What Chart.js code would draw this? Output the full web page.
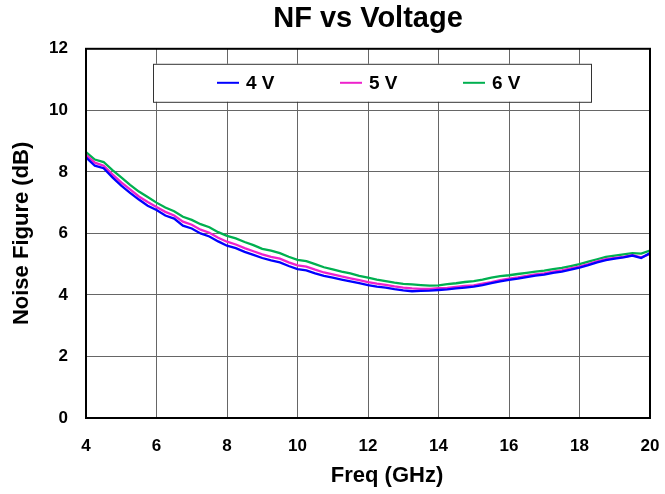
<!DOCTYPE html>
<html>
<head>
<meta charset="utf-8">
<script src="https://cdn.jsdelivr.net/npm/chart.js@4"></script>
<style>
  html, body { margin: 0; padding: 0; background: #fff; }
  .chart { width: 665px; height: 494px; }
</style>
</head>
<body>
<div class="chart"><canvas class="chart__canvas" width="665" height="494"></canvas></div>
<script>
const freqGHz = [
  4, 4.25, 4.5, 4.75, 5, 5.25, 5.5, 5.75, 6, 6.25, 6.5, 6.75, 7, 7.25, 7.5, 7.75,
  8, 8.25, 8.5, 8.75, 9, 9.25, 9.5, 9.75, 10, 10.25, 10.5, 10.75, 11, 11.25, 11.5, 11.75,
  12, 12.25, 12.5, 12.75, 13, 13.25, 13.5, 13.75, 14, 14.25, 14.5, 14.75, 15, 15.25, 15.5, 15.75,
  16, 16.25, 16.5, 16.75, 17, 17.25, 17.5, 17.75, 18, 18.25, 18.5, 18.75, 19, 19.25, 19.5, 19.75, 20,
]

const nf4V = [
  8.47, 8.20, 8.12, 7.82, 7.55, 7.32, 7.10, 6.90, 6.76, 6.58, 6.48, 6.25, 6.16, 6.00, 5.90, 5.74,
  5.60, 5.52, 5.40, 5.30, 5.20, 5.12, 5.06, 4.94, 4.84, 4.80, 4.70, 4.62, 4.56, 4.50, 4.44, 4.38,
  4.32, 4.27, 4.24, 4.19, 4.15, 4.12, 4.13, 4.14, 4.16, 4.18, 4.21, 4.24, 4.27, 4.32, 4.38, 4.44,
  4.49, 4.53, 4.58, 4.63, 4.66, 4.72, 4.76, 4.82, 4.89, 4.97, 5.06, 5.13, 5.18, 5.22, 5.28, 5.20, 5.36,
]

const nf5V = [
  8.55, 8.30, 8.20, 7.92, 7.66, 7.43, 7.20, 7.02, 6.86, 6.70, 6.58, 6.38, 6.28, 6.12, 6.02, 5.86,
  5.73, 5.64, 5.52, 5.42, 5.32, 5.24, 5.18, 5.06, 4.96, 4.92, 4.82, 4.73, 4.67, 4.60, 4.54, 4.48,
  4.42, 4.37, 4.33, 4.28, 4.24, 4.21, 4.20, 4.20, 4.22, 4.23, 4.26, 4.29, 4.31, 4.37, 4.42, 4.48,
  4.53, 4.57, 4.62, 4.67, 4.70, 4.76, 4.80, 4.86, 4.92, 5.00, 5.09, 5.16, 5.20, 5.24, 5.29, 5.22, 5.33,
]

const nf6V = [
  8.64, 8.40, 8.32, 8.06, 7.82, 7.58, 7.36, 7.18, 7.00, 6.84, 6.72, 6.54, 6.44, 6.30, 6.20, 6.04,
  5.92, 5.84, 5.72, 5.62, 5.50, 5.44, 5.36, 5.24, 5.14, 5.10, 5.00, 4.90, 4.83, 4.76, 4.70, 4.62,
  4.56, 4.50, 4.45, 4.40, 4.36, 4.34, 4.32, 4.30, 4.31, 4.35, 4.38, 4.42, 4.45, 4.50, 4.56, 4.61,
  4.64, 4.68, 4.72, 4.76, 4.79, 4.84, 4.88, 4.94, 5.00, 5.08, 5.16, 5.24, 5.28, 5.32, 5.36, 5.34, 5.44,
]

const seriesLabels = ['4 V', '5 V', '6 V']
const seriesColors = ['#0000FF', '#EE22CC', '#00B050']

const FONT = "'Liberation Sans', Arial, sans-serif"

// frame around the plot, boxed legend inside it, and the x axis title
const framePlugin = {
  id: 'frame',
  afterDatasetsDraw(chart) {
    const { ctx, chartArea: a } = chart
    ctx.save()
    ctx.strokeStyle = '#000'
    ctx.lineWidth = 2
    ctx.strokeRect(a.left, a.top, a.right - a.left, a.bottom - a.top)

    // legend box
    const bx = a.left + 67, by = a.top + 15, bw = 438, bh = 38
    ctx.fillStyle = '#fff'
    ctx.fillRect(bx, by, bw, bh)
    ctx.strokeStyle = '#333'
    ctx.lineWidth = 1
    ctx.strokeRect(bx + 0.5, by + 0.5, bw, bh)

    const cy = by + 19
    const itemX = [bx + 64, bx + 187, bx + 310]
    ctx.font = `bold 19px ${FONT}`
    ctx.textBaseline = 'middle'
    ctx.textAlign = 'left'
    chart.data.datasets.forEach((ds, i) => {
      ctx.strokeStyle = ds.borderColor
      ctx.lineWidth = 2
      ctx.beginPath()
      ctx.moveTo(itemX[i], cy)
      ctx.lineTo(itemX[i] + 22, cy)
      ctx.stroke()
      ctx.fillStyle = '#000'
      ctx.fillText(ds.label, itemX[i] + 29, cy + 1)
    })

    // x axis title
    ctx.font = `bold 22px ${FONT}`
    ctx.textAlign = 'center'
    ctx.fillText('Freq (GHz)', 387, 476)
    ctx.restore()
  },
}

const datasets = [nf4V, nf5V, nf6V].map((values, i) => ({
  label: seriesLabels[i],
  data: values.map((v, j) => ({ x: freqGHz[j], y: v })),
  borderColor: seriesColors[i],
  backgroundColor: seriesColors[i],
  borderWidth: 2.3,
  pointRadius: 0,
  tension: 0,
}))

const ctx = document.querySelector('.chart__canvas').getContext('2d')

new Chart(ctx, {
  type: 'line',
  data: { datasets },
  options: {
    responsive: false,
    animation: false,
    layout: { padding: 0 },
    plugins: {
      legend: { display: false },
      tooltip: { enabled: false },
      title: {
        display: true,
        text: 'NF vs Voltage',
        fullSize: false,
        color: '#000',
        font: { family: FONT, size: 29, weight: 'bold' },
        padding: { top: 2, bottom: 12 },
      },
    },
    scales: {
      x: {
        type: 'linear',
        min: 4,
        max: 20,
        afterFit: (scale) => {
          scale.height = 76
          scale.paddingLeft = 0
          scale.paddingRight = 15
        },
        ticks: {
          stepSize: 2,
          color: '#000',
          padding: 18,
          font: { family: FONT, size: 17, weight: 'bold' },
        },
        grid: { color: '#666', lineWidth: 1, drawTicks: false },
        border: { display: false },
      },
      y: {
        min: 0,
        max: 12,
        afterFit: (scale) => { scale.width = 86 },
        ticks: {
          stepSize: 2,
          color: '#000',
          padding: 18,
          font: { family: FONT, size: 17, weight: 'bold' },
        },
        grid: { color: '#666', lineWidth: 1, drawTicks: false },
        border: { display: false },
        title: {
          display: true,
          text: 'Noise Figure (dB)',
          color: '#000',
          font: { family: FONT, size: 22, weight: 'bold' },
          padding: { top: 9, bottom: 0 },
        },
      },
    },
  },
  plugins: [framePlugin],
})
</script>
</body>
</html>
